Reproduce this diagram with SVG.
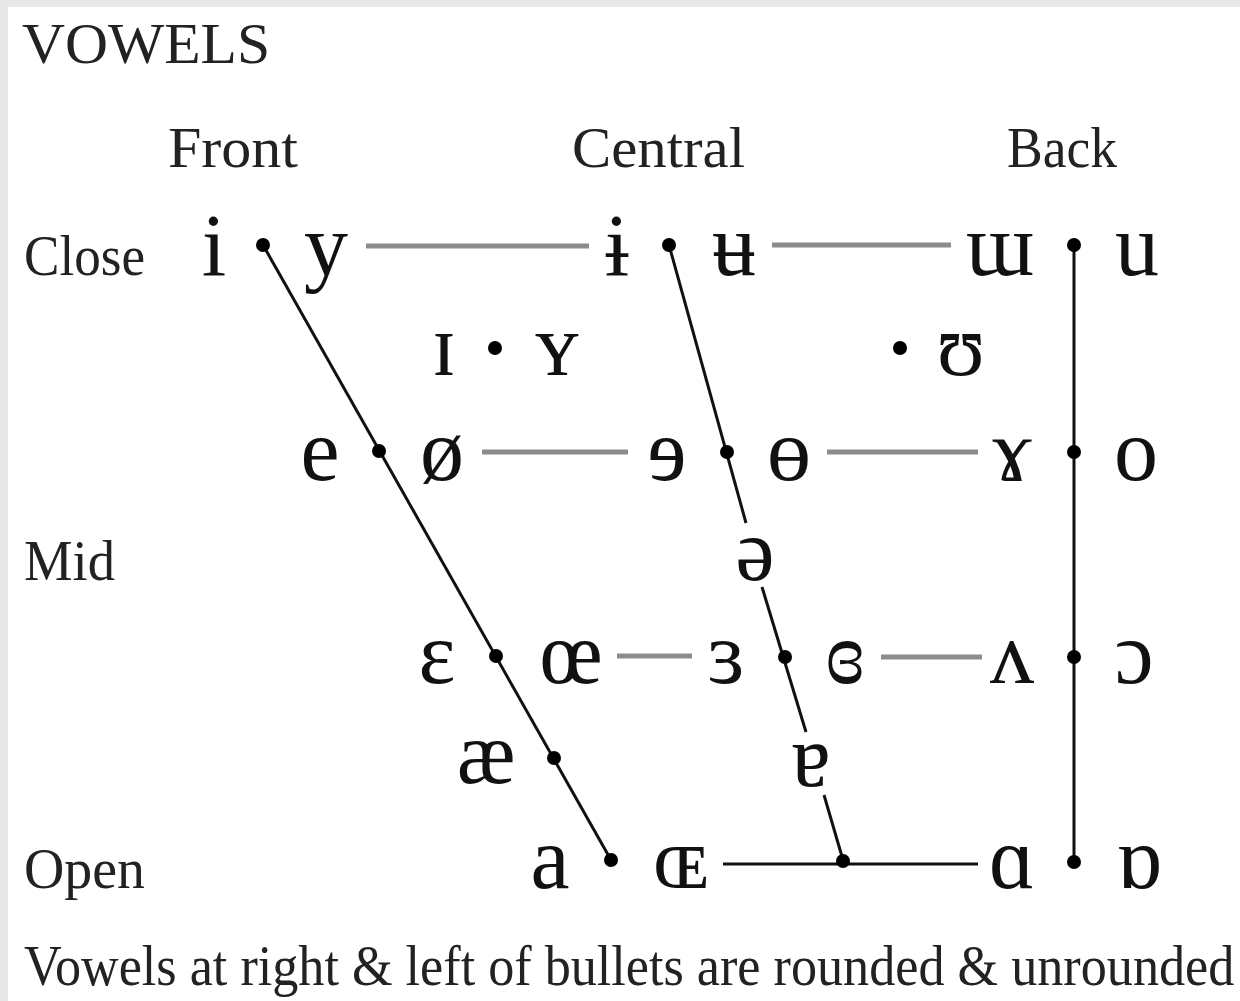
<svg xmlns="http://www.w3.org/2000/svg" width="1240" height="1001" viewBox="0 0 1240 1001">
<style>
.lbl{font-family:"Liberation Serif","DejaVu Serif",serif;font-size:56px;fill:#222}
.v{font-family:"Liberation Serif","DejaVu Serif",serif;font-size:88px;fill:#111;text-anchor:middle}
.g{stroke:#8c8c8c;stroke-width:5;fill:none}
.k{stroke:#111;stroke-width:3;fill:none}
.dot{fill:#000}
</style>
<rect x="0" y="0" width="1240" height="1001" fill="#e8e8e8"/>
<rect x="8" y="7" width="1232" height="994" fill="#fff"/>
<text class="lbl" x="22" y="63" font-size="62" textLength="248" lengthAdjust="spacingAndGlyphs">VOWELS</text>
<text class="lbl" x="168" y="167" textLength="130" lengthAdjust="spacingAndGlyphs">Front</text>
<text class="lbl" x="572" y="167" textLength="173" lengthAdjust="spacingAndGlyphs">Central</text>
<text class="lbl" x="1007" y="167" textLength="110" lengthAdjust="spacingAndGlyphs">Back</text>
<text class="lbl" x="24" y="275" textLength="121" lengthAdjust="spacingAndGlyphs">Close</text>
<text class="lbl" x="24" y="580" textLength="91" lengthAdjust="spacingAndGlyphs">Mid</text>
<text class="lbl" x="24" y="888" textLength="121" lengthAdjust="spacingAndGlyphs">Open</text>
<text class="lbl" transform="translate(24,985) scale(0.932,1)" x="0" y="0" font-size="45">Vowels at right &amp; left of bullets are rounded &amp; unrounded</text>
<g id="connectors">
<line class="g" x1="366" y1="246" x2="589" y2="246"/>
<line class="g" x1="772" y1="245" x2="951" y2="245"/>
<line class="g" x1="482" y1="452" x2="628" y2="452"/>
<line class="g" x1="827" y1="452" x2="978" y2="452"/>
<line class="g" x1="617" y1="656" x2="692" y2="656"/>
<line class="g" x1="881" y1="657" x2="982" y2="657"/>
<line class="k" x1="723" y1="864" x2="978" y2="864"/>
<line class="k" x1="263" y1="245" x2="611" y2="860"/>
<line class="k" x1="669" y1="245" x2="746" y2="523"/>
<line class="k" x1="762" y1="587" x2="806" y2="732"/>
<line class="k" x1="824" y1="795" x2="843" y2="860"/>
<line class="k" x1="1074" y1="245" x2="1074" y2="862" stroke-width="3.5"/>
</g>
<g id="close-front"><text class="v" x="214" y="275">i</text><circle class="dot" cx="263" cy="245" r="7"/><text class="v" x="326" y="275">y</text></g>
<g id="close-central"><text class="v" x="617" y="275">ɨ</text><circle class="dot" cx="669" cy="245" r="7"/><text class="v" x="734" y="275">ʉ</text></g>
<g id="close-back"><text class="v" x="1000" y="275">ɯ</text><circle class="dot" cx="1074" cy="245" r="7"/><text class="v" x="1137" y="275">u</text></g>
<g id="near-close-front"><text class="v" x="444" y="375">ɪ</text><circle class="dot" cx="495" cy="348" r="7"/><text class="v" x="557" y="375">ʏ</text></g>
<g id="near-close-back"><circle class="dot" cx="900" cy="348" r="7"/><text class="v" x="961" y="375">ʊ</text></g>
<g id="close-mid-front"><text class="v" x="320" y="480">e</text><circle class="dot" cx="379" cy="451" r="7"/><text class="v" x="442" y="480">ø</text></g>
<g id="close-mid-central"><text class="v" x="667" y="480">ɘ</text><circle class="dot" cx="727" cy="452" r="7"/><text class="v" x="789" y="480">ɵ</text></g>
<g id="close-mid-back"><text class="v" x="1012" y="480">ɤ</text><circle class="dot" cx="1074" cy="452" r="7"/><text class="v" x="1136" y="480">o</text></g>
<g id="mid-central"><text class="v" x="755" y="580">ə</text></g>
<g id="open-mid-front"><text class="v" x="437" y="683">ɛ</text><circle class="dot" cx="496" cy="656" r="7"/><text class="v" x="571" y="683">œ</text></g>
<g id="open-mid-central"><text class="v" x="726" y="683">ɜ</text><circle class="dot" cx="785" cy="657" r="7"/><text class="v" x="845" y="683">ɞ</text></g>
<g id="open-mid-back"><text class="v" x="1012" y="683">ʌ</text><circle class="dot" cx="1074" cy="657" r="7"/><text class="v" x="1134" y="683">ɔ</text></g>
<g id="near-open-front"><text class="v" x="486" y="783">æ</text><circle class="dot" cx="554" cy="758" r="7"/></g>
<g id="near-open-central"><text class="v" x="811" y="786">ɐ</text></g>
<g id="open-front"><text class="v" x="550" y="888">a</text><circle class="dot" cx="611" cy="860" r="7"/><text class="v" x="681" y="888">ɶ</text></g>
<g id="open-central"><circle class="dot" cx="843" cy="861" r="7"/></g>
<g id="open-back"><text class="v" x="1012" y="888">ɑ</text><circle class="dot" cx="1074" cy="862" r="7"/><text class="v" x="1139" y="888">ɒ</text></g>
</svg>
